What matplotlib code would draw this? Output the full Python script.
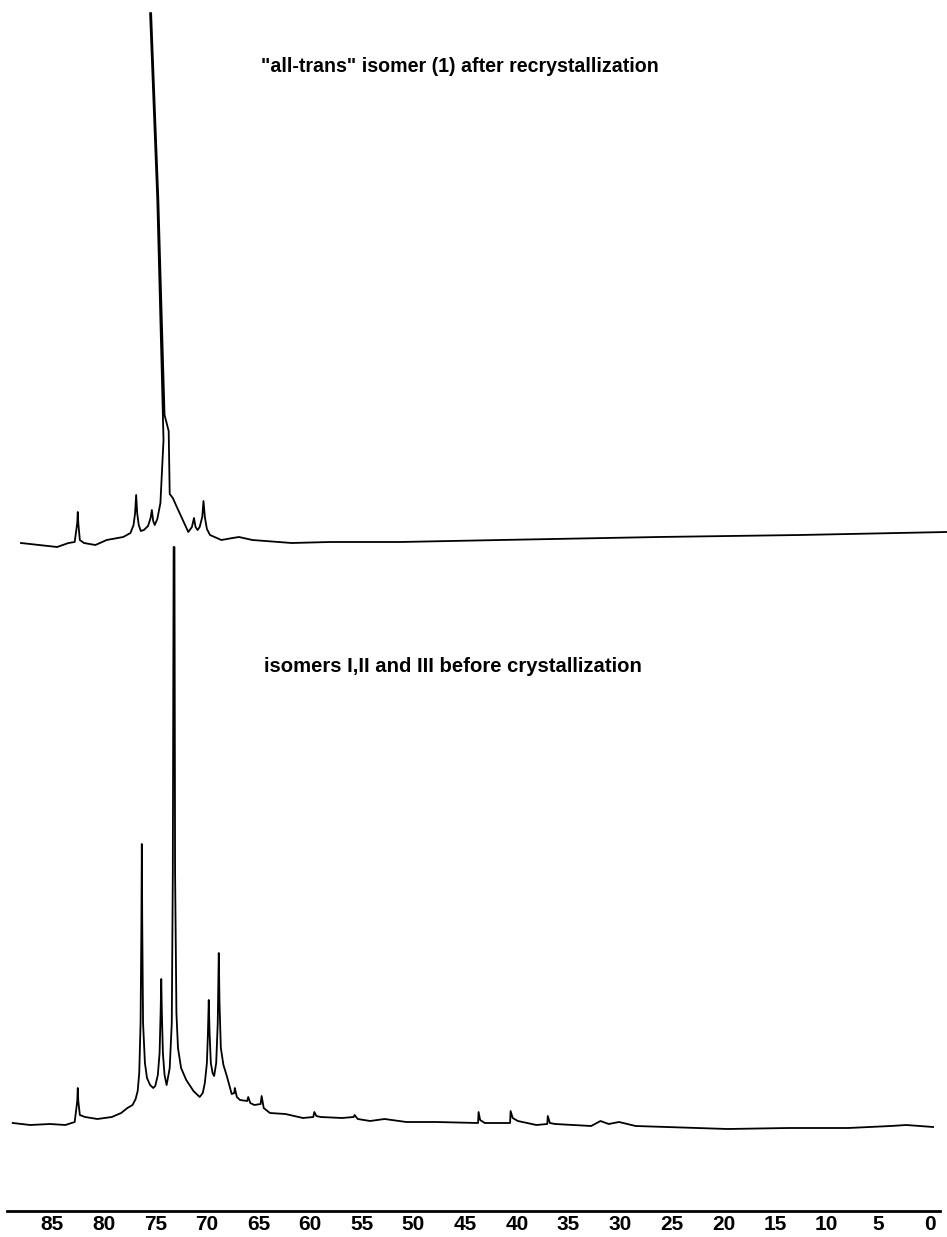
import numpy as np
import matplotlib
matplotlib.use("Agg")
import matplotlib.pyplot as plt

# 13C NMR traces: shift (ppm) and height above each trace's own baseline
top_ppm = [88.0, 84.5, 83.4, 82.8, 82.55, 82.5, 82.45, 82.3, 81.9, 80.8, 79.7, 78.1,
           77.4, 77.1, 76.95, 76.85, 76.75, 76.6, 76.4, 76.1, 75.7, 75.45, 75.33, 75.2,
           75.05, 74.8, 74.5, 74.2, 74.8, 75.5, 75.4, 74.7, 74.1, 73.7, 73.6, 73.3, 73.0,
           72.6, 71.8, 71.45, 71.25, 71.1, 70.9, 70.7, 70.45, 70.33, 70.2, 70.0, 69.7,
           68.6, 67.5, 66.9, 65.6, 61.8, 58.1, 51.3, 41.6, 26.3, 12.6, -1.6]
top_int = [0, -4, 0, 1, 20, 31, 20, 3, 0, -2, 3, 6,
           10, 18, 30, 48, 30, 18, 12, 13, 17, 25, 33, 22,
           18, 24, 40, 103, 343, 530, 530, 343, 128, 112, 49, 45, 38,
           29, 11, 16, 25, 16, 13, 16, 26, 42, 26, 14, 8,
           3, 5, 6, 3, 0, 1, 1, 3, 6, 8, 11]

bot_ppm = [88.8, 87.1, 85.2, 83.7, 82.8, 82.55, 82.5, 82.45, 82.3, 81.8, 80.6, 79.2,
           78.3, 77.7, 77.2, 76.9, 76.7, 76.55, 76.42, 76.34, 76.3, 76.26, 76.18, 76.0,
           75.8, 75.5, 75.2, 75.0, 74.75, 74.58, 74.48, 74.42, 74.36, 74.26, 74.1, 73.9,
           73.6, 73.4, 73.3, 73.22, 73.14, 73.08, 72.95, 72.8, 72.5, 72.0, 71.3, 70.7,
           70.4, 70.2, 70.0, 69.9, 69.82, 69.74, 69.62, 69.45, 69.3, 69.1, 68.95, 68.85,
           68.78, 68.65, 68.4, 68.1, 67.6, 67.35, 67.3, 67.1, 66.8, 66.1, 66.0, 65.8,
           65.4, 64.8, 64.7, 64.5, 63.9, 62.4, 60.7, 59.7, 59.6, 59.4, 59.0, 56.9,
           55.8, 55.7, 55.4, 54.2, 52.8, 50.7, 47.8, 43.75, 43.7, 43.55, 43.1, 40.65,
           40.6, 40.4, 39.9, 38.1, 37.05, 37.0, 36.8, 36.3, 32.8, 31.9, 31.1, 30.1,
           28.5, 25.5, 19.6, 13.7, 7.9, 3.8, 2.3, -0.3]
bot_int = [0, -2, -1, -2, 1, 22, 35, 22, 8, 6, 4, 6,
           10, 15, 18, 24, 32, 50, 100, 200, 279, 200, 100, 60,
           45, 38, 35, 37, 48, 70, 110, 144, 110, 70, 48, 38,
           55, 100, 250, 576, 576, 250, 110, 75, 55, 43, 32, 26,
           30, 40, 60, 90, 123, 90, 60, 50, 47, 60, 100, 170,
           120, 75, 58, 48, 29, 30, 35, 26, 23, 22, 26, 20,
           18, 19, 27, 15, 10, 9, 5, 6, 11, 7, 6, 5,
           6, 8, 4, 2, 4, 1, 1, 0, 11, 3, 0, 0,
           12, 5, 2, -2, -1, 7, 0, -1, -3, 2, -1, 1,
           -3, -4, -6, -5, -5, -3, -2, -4]

tick_values = [85, 80, 75, 70, 65, 60, 55, 50, 45, 40, 35, 30, 25, 20, 15, 10, 5, 0]

top_label = '"all-trans" isomer (1) after recrystallization'
bot_label = 'isomers I,II and III before crystallization'

W, H = 947, 1237
PX0, PX_PER_PPM = 930.0, 10.33   # pixel x of 0 ppm, pixels per ppm
TOP_BASE, BOT_BASE = 543, 1123   # pixel rows of the two baselines
AXIS_ROW = 1211


def ppm_at(px):
    return (PX0 - px) / PX_PER_PPM


plt.rcParams['font.family'] = ['Liberation Sans', 'DejaVu Sans']

fig = plt.figure(figsize=(W / 100, H / 100), dpi=100, facecolor='white')

# spectra drawn in a full-figure axes, y in pixel rows (downwards)
ax = fig.add_axes([0, 0, 1, 1])
ax.set_xlim(ppm_at(0), ppm_at(W))
ax.set_ylim(H, 0)
ax.axis('off')

ax.plot(top_ppm, TOP_BASE - np.array(top_int), color='black', lw=1.3,
        solid_joinstyle='round')
ax.plot(bot_ppm, BOT_BASE - np.array(bot_int), color='black', lw=1.3,
        solid_joinstyle='round')

# ppm scale
x_left, x_right = 7, 940
sc = fig.add_axes([x_left / W, (H - AXIS_ROW) / H, (x_right - x_left) / W, 0.0001])
sc.set_xlim(ppm_at(x_left), ppm_at(x_right))
sc.set_facecolor('none')
for s in ['top', 'left', 'right']:
    sc.spines[s].set_visible(False)
sc.spines['bottom'].set_linewidth(2.0)
sc.set_yticks([])
sc.set_xticks(tick_values)
sc.set_xticklabels([str(v) for v in tick_values])
sc.tick_params(axis='x', length=0, pad=3, labelsize=15)
for t in sc.get_xticklabels():
    t.set_fontweight('bold')

# captions, scaled to the width they take in the scan
renderer = fig.canvas.get_renderer()


def caption(text, x0, x1, row):
    t = fig.text(x0 / W, 1 - row / H, text, ha='left', va='center',
                 fontsize=12, fontweight='bold')
    w = t.get_window_extent(renderer).width
    t.set_fontsize(12 * (x1 - x0) / w)
    return t


caption(top_label, 261, 657, 67)
caption(bot_label, 264, 641, 666)

fig.savefig('out.png', dpi=100, facecolor='white')
